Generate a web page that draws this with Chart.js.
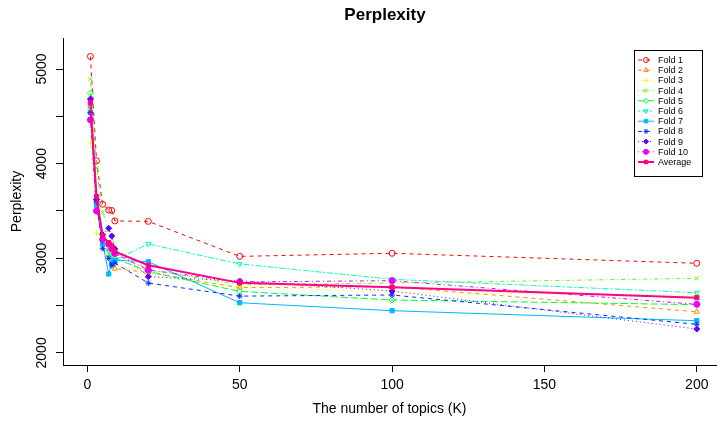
<!DOCTYPE html>
<html>
<head>
<meta charset="utf-8">
<script src="https://cdn.jsdelivr.net/npm/chart.js@4/dist/chart.umd.min.js"></script>
<style>
  body { margin: 0; background: #fff; }
  canvas { display: block; }
</style>
</head>
<body>
<canvas id="perplexityChart" width="721" height="421"></canvas>
<script>
// number of topics K
const topics = [1, 3, 5, 7, 8, 9, 20, 50, 100, 200];

const fold1 = [5133, 4030, 3570, 3510, 3505, 3395, 3390, 3020, 3053, 2947];
const fold2 = [4600, 3600, 3200, 3100, 2950, 2890, 2850, 2690, 2700, 2435];
const fold3 = [4217, 3265, 3150, 3050, 3000, 2950, 2820, 2700, 2640, 2610];
const fold4 = [4894, 3952, 3483, 3300, 3200, 3100, 2880, 2720, 2738, 2788];
const fold5 = [4746, 3620, 3250, 3150, 3050, 3000, 2860, 2650, 2559, 2510];
const fold6 = [4600, 3580, 3200, 3080, 3020, 2980, 3151, 2940, 2778, 2636];
const fold7 = [4540, 3560, 3158, 2834, 2950, 2980, 2964, 2530, 2446, 2340];
const fold8 = [4540, 3599, 3106, 3000, 2922, 2950, 2738, 2600, 2612, 2302];
const fold9 = [4683, 3620, 3250, 3317, 3236, 3100, 2805, 2760, 2654, 2252];
const fold10 = [4463, 3500, 3200, 3150, 3100, 3050, 2876, 2750, 2763, 2513];
const average = [4643, 3652, 3236, 3165, 3130, 3070, 2926, 2740, 2693, 2583];

const seriesNames = ['Fold 1', 'Fold 2', 'Fold 3', 'Fold 4', 'Fold 5', 'Fold 6', 'Fold 7', 'Fold 8', 'Fold 9', 'Fold 10', 'Average'];
const seriesValues = [fold1, fold2, fold3, fold4, fold5, fold6, fold7, fold8, fold9, fold10, average];

const xTicks = [0, 50, 100, 150, 200];
const yTicks = [2000, 2500, 3000, 3500, 4000, 4500, 5000];
const yLabels = [2000, 3000, 4000, 5000];

// styles, like R rainbow(11)
const colors = ['#FF0000', '#FF8B00', '#E8FF00', '#5DFF00', '#00FF2E', '#00FFB9', '#00B9FF', '#002EFF', '#5D00FF', '#E800FF', '#FF008B'];
const dashes = [[4, 4], [4, 4], [1, 3], [1, 3, 4, 3], [7, 3], [2, 2, 6, 2], [], [4, 4], [1, 3], [1, 3, 4, 3], []];
const markers = ['circle', 'triangle', 'cross', 'crossRot', 'rectRot', 'triangle', 'rect', 'star', 'rectRot', 'circle', 'rect'];
const filled = [false, false, false, false, false, false, true, false, true, true, true];
const rotations = [0, 0, 0, 0, 0, 180, 0, 0, 0, 0, 0];

const FONT = '"Liberation Sans", Arial, sans-serif';

const datasets = seriesNames.map((name, i) => ({
    label: name,
    data: topics.map((k, j) => ({ x: k, y: seriesValues[i][j] })),
    borderColor: colors[i],
    backgroundColor: filled[i] ? colors[i] : 'rgba(0,0,0,0)',
    pointBorderColor: colors[i],
    pointBackgroundColor: filled[i] ? colors[i] : 'rgba(0,0,0,0)',
    borderWidth: i === 10 ? 2 : 1,
    borderDash: dashes[i],
    pointStyle: markers[i],
    pointRotation: rotations[i],
    pointRadius: 3,
    pointBorderWidth: 1,
    tension: 0,
    order: 10 - i,
}));

const decorPlugin = {
    id: 'decor',
    afterDraw(chart) {
        const ctx = chart.ctx;
        const yScale = chart.scales.y;
        ctx.save();
        ctx.fillStyle = '#000';

        // title
        ctx.font = 'bold 17px ' + FONT;
        ctx.textAlign = 'center';
        ctx.textBaseline = 'middle';
        ctx.fillText('Perplexity', 385, 15);

        // y tick labels, rotated like R
        ctx.font = '14px ' + FONT;
        yLabels.forEach(v => {
            const py = yScale.getPixelForValue(v);
            ctx.save();
            ctx.translate(42, py);
            ctx.rotate(-Math.PI / 2);
            ctx.fillText(String(v), 0, 0);
            ctx.restore();
        });

        // legend box
        const bx = 634, by = 50, bw = 68, bh = 126;
        ctx.strokeStyle = '#000';
        ctx.lineWidth = 1;
        ctx.setLineDash([]);
        ctx.strokeRect(bx + 0.5, by + 0.5, bw, bh);
        ctx.font = '9px ' + FONT;
        ctx.textAlign = 'left';
        chart.data.datasets.forEach((ds, i) => {
            const ly = by + 10 + i * 10.2;
            ctx.strokeStyle = ds.borderColor;
            ctx.lineWidth = ds.borderWidth;
            ctx.setLineDash(ds.borderDash);
            ctx.beginPath();
            ctx.moveTo(bx + 4, ly);
            ctx.lineTo(bx + 20, ly);
            ctx.stroke();
            ctx.setLineDash([]);
            ctx.lineWidth = 1;
            ctx.fillStyle = ds.pointBackgroundColor;
            Chart.helpers.drawPoint(ctx, {
                pointStyle: ds.pointStyle,
                rotation: ds.pointRotation,
                radius: 2.5,
                borderWidth: 1,
            }, bx + 12, ly);
            ctx.fillStyle = '#000';
            ctx.fillText(ds.label, bx + 24, ly + 0.5);
        });
        ctx.restore();
    }
};

new Chart(document.getElementById('perplexityChart').getContext('2d'), {
    type: 'line',
    data: { datasets: datasets },
    options: {
        responsive: false,
        animation: false,
        devicePixelRatio: 1,
        layout: { padding: { top: 38, right: 0, left: 0, bottom: 0 } },
        plugins: {
            legend: { display: false },
            tooltip: { enabled: false },
            title: { display: false },
        },
        scales: {
            x: {
                type: 'linear',
                min: -8,
                max: 206.3,
                afterBuildTicks: scale => { scale.ticks = xTicks.map(v => ({ value: v })); },
                afterFit: scale => { scale.height = 56; },
                grid: { display: true, drawOnChartArea: false, drawTicks: true, tickLength: 7, color: '#000' },
                border: { display: true, color: '#000', width: 1 },
                ticks: { color: '#000', font: { family: FONT, size: 14 }, padding: 5, maxRotation: 0 },
                title: { display: true, text: 'The number of topics (K)', color: '#000', font: { family: FONT, size: 14 }, padding: { top: 0, bottom: 3 } },
            },
            y: {
                type: 'linear',
                min: 1872,
                max: 5328,
                afterBuildTicks: scale => { scale.ticks = yTicks.map(v => ({ value: v })); },
                afterFit: scale => { scale.width = 63; },
                grid: { display: true, drawOnChartArea: false, drawTicks: true, tickLength: 7, color: '#000' },
                border: { display: true, color: '#000', width: 1 },
                ticks: { display: false },
                title: { display: true, text: 'Perplexity', color: '#000', font: { family: FONT, size: 14 }, padding: { top: 9, bottom: 0 } },
            },
        },
    },
    plugins: [decorPlugin],
});
</script>
</body>
</html>
